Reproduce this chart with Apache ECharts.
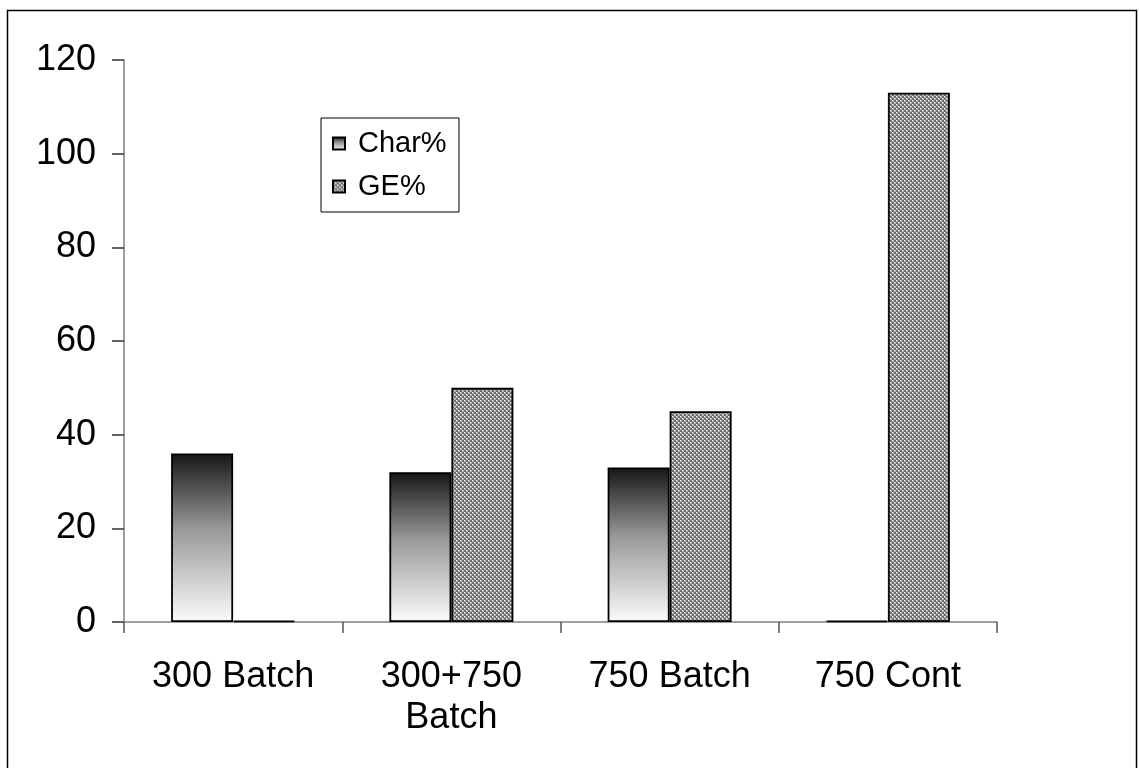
<!DOCTYPE html>
<html>
<head>
<meta charset="utf-8">
<style>
  html, body { margin: 0; padding: 0; background: #ffffff; }
  #chart { width: 1139px; height: 768px; }
</style>
<script src="https://cdn.jsdelivr.net/npm/echarts@6/dist/echarts.min.js"></script>
</head>
<body>
<div id="chart"></div>
<script>
// Process runs and the two measured percentages
const categories = ['300 Batch', '300+750\nBatch', '750 Batch', '750 Cont'];
const charPct = [36, 32, 33, 0.3];
const gePct = [0.3, 50, 45, 113];
const yTicks = { min: 0, max: 120, interval: 20 };

// Fine checkered fill for the GE% bars
function makeChecker() {
  const c = document.createElement('canvas');
  c.width = 4; c.height = 4;
  const g = c.getContext('2d');
  g.fillStyle = '#6e6e6e';
  g.fillRect(0, 0, 4, 4);
  g.fillStyle = '#b0b0b0';
  g.fillRect(0, 0, 2, 2);
  g.fillRect(2, 2, 2, 2);
  g.fillStyle = '#ffffff';
  g.fillRect(0, 0, 1, 1);
  g.fillRect(2, 2, 1, 1);
  return c;
}

const charFill = {
  type: 'linear', x: 0, y: 0, x2: 0, y2: 1,
  colorStops: [
    { offset: 0, color: '#161616' },
    { offset: 0.45, color: '#999999' },
    { offset: 1, color: '#fbfbfb' }
  ]
};
const geFill = { image: makeChecker(), repeat: 'repeat' };

const font = 'Liberation Sans, Arial, sans-serif';
const chart = echarts.init(document.getElementById('chart'));

chart.setOption({
  animation: false,
  backgroundColor: '#ffffff',
  textStyle: { fontFamily: font },
  graphic: [{
    type: 'rect',
    shape: { x: 7.5, y: 10.5, width: 1129, height: 780 },
    style: { fill: 'none', stroke: '#000000', lineWidth: 1.5 },
    silent: true
  }],
  grid: { left: 124, right: 142, top: 60, bottom: 146 },
  legend: {
    orient: 'vertical',
    left: 321,
    top: 118,
    padding: [9, 10, 9, 11],
    itemGap: 10,
    itemWidth: 12,
    itemHeight: 12,
    icon: 'rect',
    borderColor: '#000000',
    borderWidth: 1,
    backgroundColor: '#ffffff',
    textStyle: {
      fontSize: 29, color: '#000000', fontFamily: font,
      padding: [0, 0, 0, 8], lineHeight: 33, width: 91
    },
    data: ['Char%', 'GE%']
  },
  xAxis: {
    type: 'category',
    data: categories,
    axisLine: { lineStyle: { color: '#808080', width: 1.5 } },
    axisTick: { show: true, length: 11, interval: 0, lineStyle: { color: '#555555', width: 1.5 } },
    axisLabel: {
      color: '#000000', fontSize: 36, fontFamily: font,
      lineHeight: 41, margin: 35, interval: 0
    },
    splitLine: { show: false }
  },
  yAxis: {
    type: 'value',
    min: yTicks.min,
    max: yTicks.max,
    interval: yTicks.interval,
    axisLine: { show: true, lineStyle: { color: '#808080', width: 1.5 } },
    axisTick: { show: true, length: 12, lineStyle: { color: '#333333', width: 1.5 } },
    axisLabel: { color: '#000000', fontSize: 36, fontFamily: font, margin: 28 },
    splitLine: { show: false }
  },
  series: [
    {
      name: 'Char%',
      type: 'bar',
      data: charPct,
      barWidth: 62,
      barGap: '0%',
      itemStyle: { color: charFill, borderColor: '#000000', borderWidth: 1.8 }
    },
    {
      name: 'GE%',
      type: 'bar',
      data: gePct,
      barWidth: 62,
      barGap: '0%',
      itemStyle: { color: geFill, borderColor: '#000000', borderWidth: 1.8 }
    }
  ]
});
</script>
</body>
</html>
